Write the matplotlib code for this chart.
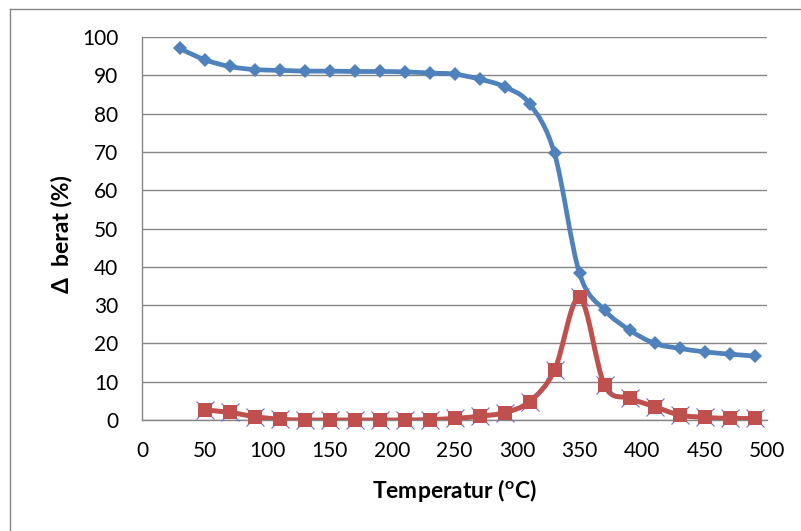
import numpy as np
import matplotlib
matplotlib.use("Agg")
import matplotlib.pyplot as plt
from matplotlib.path import Path
from matplotlib.patches import PathPatch
from matplotlib.lines import Line2D

plt.rcParams["font.family"] = ["Lato", "DejaVu Sans"]
plt.rcParams["mathtext.fontset"] = "custom"
plt.rcParams["mathtext.rm"] = "Lato"
plt.rcParams["mathtext.bf"] = "Lato:bold"

# Weight loss curve (TGA) and its derivative
temp_tga = [30, 50, 70, 90, 110, 130, 150, 170, 190, 210, 230, 250,
            270, 290, 310, 330, 350, 370, 390, 410, 430, 450, 470, 490]
berat_tga = [97.0, 94.1, 92.3, 91.5, 91.3, 91.1, 91.1, 91.0, 91.0, 90.9, 90.6, 90.3,
             89.0, 87.0, 82.6, 69.6, 38.3, 28.7, 23.5, 20.0, 18.7, 17.8, 17.2, 16.7]

temp_dtg = [50, 70, 90, 110, 130, 150, 170, 190, 210, 230, 250,
            270, 290, 310, 330, 350, 370, 390, 410, 430, 450, 470, 490]
berat_dtg = [2.6, 2.0, 0.9, 0.2, 0.0, 0.0, 0.0, 0.0, 0.0, 0.1, 0.4,
             1.0, 1.9, 4.8, 13.0, 32.0, 9.1, 5.7, 3.5, 1.3, 0.7, 0.4, 0.4]

x_ticks = [0, 50, 100, 150, 200, 250, 300, 350, 400, 450, 500]
y_ticks = [0, 10, 20, 30, 40, 50, 60, 70, 80, 90, 100]

BLUE = "#4F81BD"
RED = "#C0504D"
GRID = "#868686"


def smooth_path(xs, ys):
    """Cubic Bezier path through the points (Catmull-Rom style tangents)."""
    p = np.column_stack([xs, ys]).astype(float)
    n = len(p)
    verts = [p[0]]
    codes = [Path.MOVETO]
    for i in range(n - 1):
        p0 = p[i - 1] if i > 0 else p[i]
        p1 = p[i]
        p2 = p[i + 1]
        p3 = p[i + 2] if i + 2 < n else p[i + 1]
        c1 = p1 + (p2 - p0) / 6.0
        c2 = p2 - (p3 - p1) / 6.0
        verts += [c1, c2, p2]
        codes += [Path.CURVE4] * 3
    return Path(verts, codes)


W, H = 801, 531
fig = plt.figure(figsize=(W / 100, H / 100), dpi=100)
fig.patch.set_facecolor("white")

L, R, T, B = 142, 767, 37, 420
ax = fig.add_axes([L / W, 1 - B / H, (R - L) / W, (B - T) / H])
ax.set_xlim(0, 500)
ax.set_ylim(0, 100)
ax.set_xticks(x_ticks)
ax.set_yticks(y_ticks)
ax.yaxis.grid(True, color=GRID, linewidth=1.0)
ax.set_axisbelow(True)
for s in ["top", "right"]:
    ax.spines[s].set_visible(False)
for s in ["left", "bottom"]:
    ax.spines[s].set_color(GRID)
    ax.spines[s].set_linewidth(1.0)
ax.tick_params(length=0, labelsize=15, colors="black")
ax.tick_params(axis="y", pad=17)
ax.tick_params(axis="x", pad=15)

# Smoothed series lines
ax.add_patch(PathPatch(smooth_path(temp_tga, berat_tga), fill=False,
                       edgecolor=BLUE, linewidth=3.4, zorder=3,
                       capstyle="round", joinstyle="round"))
ax.add_patch(PathPatch(smooth_path(temp_dtg, berat_dtg), fill=False,
                       edgecolor=RED, linewidth=3.6, zorder=3,
                       capstyle="round", joinstyle="round"))

# Markers
ax.plot(temp_dtg, berat_dtg, linestyle="none", marker="x", markersize=13,
        markeredgecolor="#7B68C0", markeredgewidth=0.8, zorder=4, clip_on=False)
ax.plot(temp_dtg, berat_dtg, linestyle="none", marker="s", markersize=10.5,
        markerfacecolor=RED, markeredgewidth=0, zorder=5, clip_on=False)
ax.plot(temp_tga, berat_tga, linestyle="none", marker="D", markersize=7.5,
        markerfacecolor=BLUE, markeredgewidth=0, zorder=6, clip_on=False)

# Axis titles
fig.text(454 / W, 1 - 490 / H, r"Temperatur ($\mathbf{^o}$C)", ha="center",
         va="center", fontsize=16.5, fontweight="bold")
fig.text(62 / W, 1 - 234 / H, "Δ  berat (%)", ha="center", va="center",
         rotation=90, fontsize=16.5, fontweight="bold")

# Chart area border
fig.add_artist(Line2D([10 / W, 10 / W], [1 - 9 / H, 0], color=GRID,
                      linewidth=1.0, transform=fig.transFigure))
fig.add_artist(Line2D([10 / W, 1], [1 - 9 / H, 1 - 9 / H], color=GRID,
                      linewidth=1.0, transform=fig.transFigure))

fig.savefig("out.png", dpi=100, facecolor="white")
